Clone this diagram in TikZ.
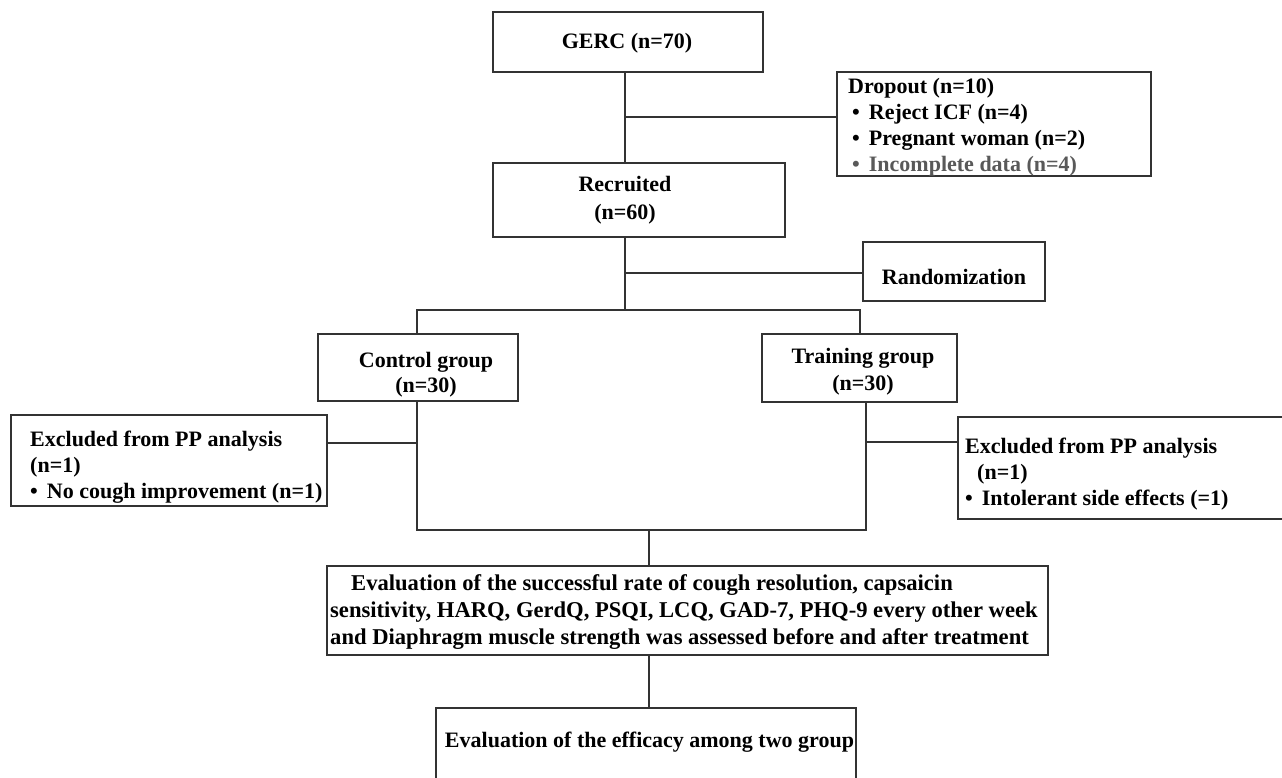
\documentclass[tikz,border=0pt]{standalone}
\usepackage{fontspec}
\setmainfont{Liberation Serif}
\definecolor{linegray}{HTML}{333333}
\definecolor{fadegray}{HTML}{595959}
\begin{document}
\begin{tikzpicture}[x=1pt,y=-1pt,
  box/.style={draw=linegray, line width=1.4pt, inner sep=0pt, fill=none},
  txt/.style={inner sep=0pt, font=\bfseries\fontsize{22}{27}\selectfont, text=black},
  conn/.style={draw=linegray, line width=1.4pt}]
\useasboundingbox (0,0) rectangle (1282,778);
\clip (0,0) rectangle (1282,778);
\fill[white] (0,0) rectangle (1282,778);

% boxes
\node[box, minimum width=270pt, minimum height=60pt] (gerc) at (628,42) {};
\node[box, minimum width=314pt, minimum height=104pt] (drop) at (994,124) {};
\node[box, minimum width=292pt, minimum height=74pt] (rec) at (639,200) {};
\node[box, minimum width=182pt, minimum height=59pt] (rand) at (954,271.5) {};
\node[box, minimum width=200pt, minimum height=67pt] (ctrl) at (418,367.5) {};
\node[box, minimum width=195pt, minimum height=68pt] (train) at (859.5,368) {};
\node[box, minimum width=316pt, minimum height=91pt] (exl) at (169,460.5) {};
\node[box, minimum width=332pt, minimum height=102pt] (exr) at (1124,468) {};
\node[box, minimum width=721pt, minimum height=89pt] (eval) at (687.5,610.5) {};
\node[box, minimum width=420pt, minimum height=90pt] (final) at (646,753) {};

% texts
\node[txt] (gercT) at (627,43) {GERC (n=70)};
\node[txt, align=left, anchor=west, font=\bfseries\fontsize{22}{26}\selectfont] (dropT) at (848,127)
  {Dropout (n=10)\\
   \hspace{4pt}\textbullet\hspace{9pt}Reject ICF (n=4)\\
   \hspace{4pt}\textbullet\hspace{9pt}Pregnant woman (n=2)\\
   \textcolor{fadegray}{\hspace{4pt}\textbullet\hspace{9pt}Incomplete data (n=4)}};
\node[txt, align=center, font=\bfseries\fontsize{22}{28}\selectfont] (recT) at (625,200) {Recruited\\(n=60)};
\node[txt] (randT) at (954,277) {Randomization};
\node[txt, align=center, font=\bfseries\fontsize{22}{25}\selectfont] (ctrlT) at (426,375) {Control group\\(n=30)};
\node[txt, align=center] (trainT) at (863,372) {Training group\\(n=30)};
\node[txt, align=left, anchor=west, font=\bfseries\fontsize{22}{26}\selectfont] (exlT) at (30,467)
  {Excluded from PP analysis\\
   (n=1)\\
   \textbullet\hspace{9pt}No cough improvement (n=1)};
\node[txt, align=left, anchor=west, font=\bfseries\fontsize{22}{26}\selectfont] (exrT) at (965,474)
  {Excluded from PP analysis\\
   \hspace{12pt}(n=1)\\
   \textbullet\hspace{9pt}Intolerant side effects (=1)};
\node[txt, align=left, anchor=west, font=\bfseries\fontsize{22.6}{27}\selectfont] (evalT) at (330,612)
  {\hspace{21pt}Evaluation of the successful rate of cough resolution, capsaicin\\
   sensitivity, HARQ, GerdQ, PSQI, LCQ, GAD-7, PHQ-9 every other week\\
   and Diaphragm muscle strength was assessed before and after treatment};
\node[txt] (finalT) at (649.5,742) {Evaluation of the efficacy among two group};

% connectors
\coordinate (j1) at (625,117);
\coordinate (j2) at (625,273);
\coordinate (split) at (625,310);
\coordinate (sl) at (417,310);
\coordinate (sr) at (860,310);
\coordinate (jl) at (417,443);
\coordinate (jr) at (866,442);
\coordinate (merge) at (649,530);

\draw[conn] (gerc.south -| j1) -- (rec.north -| j1);
\draw[conn] (j1) -- (drop.west |- j1);
\draw[conn] (rec.south -| j2) -- (split);
\draw[conn] (j2) -- (rand.west |- j2);
\draw[conn] (ctrl.north -| sl) -- (sl) -- (sr) -- (train.north -| sr);
\draw[conn] (ctrl.south -| jl) -- (jl |- merge) -- (jr |- merge) -- (train.south -| jr);
\draw[conn] (jl) -- (exl.east |- jl);
\draw[conn] (jr) -- (exr.west |- jr);
\draw[conn] (merge) -- (eval.north -| merge);
\draw[conn] (eval.south -| merge) -- (final.north -| merge);
\end{tikzpicture}
\end{document}
